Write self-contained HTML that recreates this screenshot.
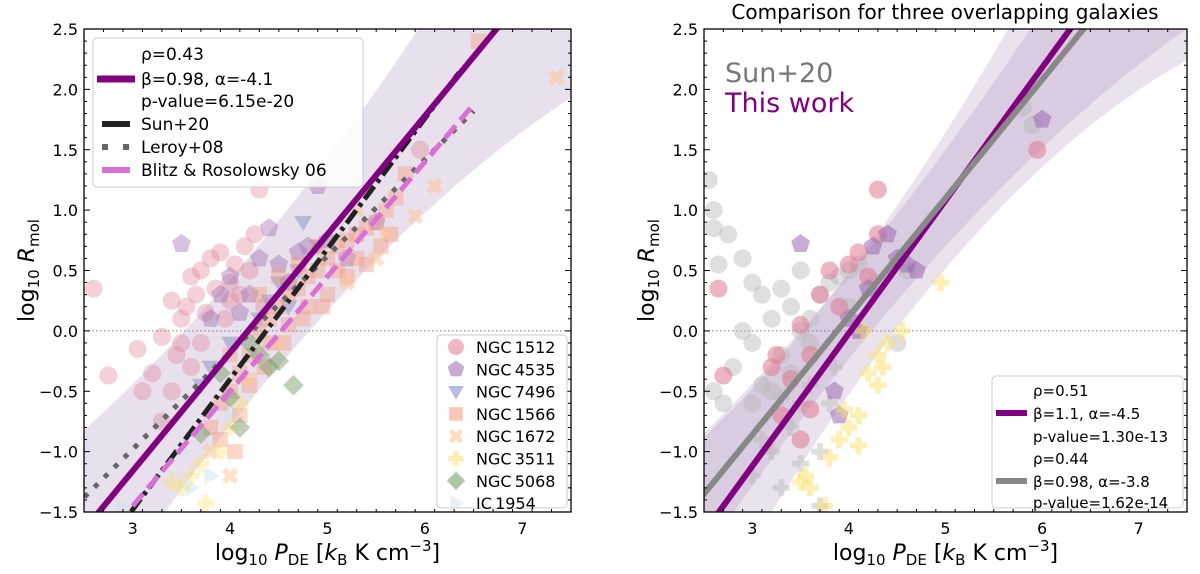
<!DOCTYPE html>
<html><head><meta charset="utf-8">
<style>
html,body{margin:0;padding:0;background:#fff;width:1200px;height:574px;overflow:hidden;}
svg{display:block;font-family:"DejaVu Sans","Liberation Sans",sans-serif;}
</style></head>
<body>
<svg id="fig" width="1200" height="574" viewBox="0 0 1200 574"></svg>
<script>
// ---------- data ----------
const xTicks=[3,4,5,6,7];
const yTicks=[-1.5,-1.0,-0.5,0.0,0.5,1.0,1.5,2.0,2.5];
const fitLeft=[0.98,-4.1];
const sunLine=[1.08,-4.72];
const leroyLine=[0.8,-3.38];
const blitzLine=[0.95,-4.3];
const fitRightWork=[1.1,-4.42];
const fitRightSun=[0.98,-3.8];
const n1512=[[2.6,0.35],[2.75,-0.37],[3.05,-0.15],[3.1,-0.5],[3.2,-0.35],[3.3,-0.75],[3.4,0.25],[3.5,0.1],[3.55,0.2],[3.6,0.45],[3.65,0.3],[3.7,0.5],[3.75,0.15],[3.8,0.6],[3.85,0.35],[3.9,0.65],[3.95,0.1],[4.0,0.4],[4.05,0.55],[4.1,0.3],[4.15,0.7],[4.2,0.5],[4.25,0.8],[4.3,1.17],[4.35,0.2],[3.3,-0.05],[3.45,-0.2],[3.6,-0.3],[3.5,-0.1],[4.0,0.25],[5.95,1.5],[3.4,-0.5],[3.7,-0.1]];
const n4535=[[3.5,0.72],[4.9,1.2],[4.3,0.6],[4.5,0.55],[4.6,0.4],[4.7,0.65],[4.8,0.7],[4.0,0.45],[4.2,0.3],[5.0,0.75],[5.2,0.6],[4.4,0.85],[3.9,0.3],[4.1,0.15],[5.5,0.9],[3.8,0.1]];
const n7496=[[4.5,0.4],[4.7,0.5],[4.6,0.2],[4.3,0.1],[4.0,-0.1],[3.8,-0.3],[3.7,-0.45],[4.9,0.7],[4.4,0.25],[4.75,0.9]];
const n1566=[[3.8,-0.8],[3.9,-0.6],[4.0,-0.5],[4.1,-0.35],[4.2,-0.2],[4.3,0],[4.4,0.1],[4.5,0.2],[4.6,0.3],[4.7,0.35],[4.8,0.45],[4.9,0.5],[5.0,0.6],[5.1,0.7],[5.2,0.75],[5.3,0.8],[5.4,0.85],[5.5,0.9],[5.6,1.0],[5.7,1.1],[5.8,1.3],[4.0,-0.2],[4.2,-0.45],[4.4,-0.1],[4.6,0.05],[4.8,0.2],[5.0,0.3],[5.2,0.45],[5.4,0.55],[4.3,0.3],[4.5,0.45],[4.7,0.55],[4.9,0.7],[5.1,0.5],[5.3,0.6],[3.9,-0.9],[4.1,-0.7],[4.05,-1.0],[6.55,2.4],[4.35,-0.3],[4.55,-0.1],[4.75,0.1],[4.95,0.2],[5.55,0.7],[5.65,0.8]];
const n1672=[[5.5,0.6],[5.9,0.95],[7.35,2.1],[4.2,-0.4],[4.5,-0.1],[5.2,0.4],[5.6,0.8],[3.8,-1.0],[4.0,-1.2],[5.3,1.0],[6.1,1.2]];
const n3511=[[3.5,-1.3],[3.6,-1.2],[3.7,-1.1],[3.75,-1.43],[3.9,-1.0],[4.0,-0.8],[3.4,-1.25],[4.1,-0.6]];
const n5068=[[4.5,-0.25],[4.65,-0.45],[4.4,-0.3],[4.2,-0.1],[4.0,-0.55],[3.7,-0.85],[4.1,-0.8],[4.3,-0.2],[3.9,-0.35]];
const ic1954=[[3.6,-1.3],[3.3,-0.75],[3.5,-1.0],[3.8,-1.2],[2.9,-1.45],[4.0,-0.7]];
const rSunCirc=[[2.55,1.25],[2.6,1.0],[2.6,0.85],[2.75,0.8],[2.9,0.6],[3.0,0.4],[3.1,0.3],[3.2,0.1],[3.3,0.35],[3.4,0.2],[3.5,0.0],[3.6,0.1],[3.7,0.3],[3.8,0.4],[3.9,0.45],[4.0,0.5],[4.1,0.55],[3.3,-0.2],[3.2,-0.5],[3.1,-0.45],[3.0,-0.1],[2.8,-0.3],[2.7,-0.6],[2.6,-0.5],[2.9,0.0],[3.4,-0.35],[3.6,-0.1],[3.5,0.5],[2.65,0.55],[3.0,-0.6],[5.8,1.85],[5.9,1.7],[4.0,0.2],[4.3,0.4],[4.6,0.5],[4.5,-0.1]];
const r1512=[[2.65,0.35],[2.7,-0.37],[3.25,-0.2],[3.3,-0.7],[3.5,-0.9],[3.6,-0.65],[3.4,-0.4],[3.5,0.05],[3.7,0.3],[3.8,0.5],[4.0,0.55],[4.1,0.65],[4.2,0.45],[4.3,1.17],[4.3,0.8],[3.9,0.2],[3.2,-0.3],[3.6,-0.2],[5.95,1.5]];
const r4535=[[3.5,0.72],[3.85,-0.5],[3.9,-0.7],[4.0,0.1],[4.2,0.35],[4.5,0.6],[4.6,0.55],[4.7,0.5],[4.4,0.8],[4.25,0.7],[6.0,1.75],[4.1,0.0]];
const r3511=[[3.5,-1.25],[3.6,-1.3],[3.55,-1.2],[3.8,-1.05],[3.9,-0.9],[4.0,-0.8],[4.1,-0.7],[4.2,-0.35],[4.3,-0.2],[4.4,-0.1],[4.3,-0.45],[4.1,-0.95],[3.75,-1.45],[4.15,0.0],[4.55,0.0],[4.95,0.4],[3.95,-0.65],[4.35,-0.3]];
const rSunPlus=[[3.0,-1.2],[3.1,-0.9],[3.2,-1.0],[3.3,-1.3],[3.4,-0.8],[3.5,-0.6],[3.6,-0.45],[3.7,-1.0],[3.8,-0.6],[3.3,-0.55],[3.5,-1.1],[3.85,-0.3],[3.7,-1.45]];

const NS='http://www.w3.org/2000/svg';
const svg=document.getElementById('fig');
function el(tag,attrs,parent){const e=document.createElementNS(NS,tag);for(const k in attrs)e.setAttribute(k,attrs[k]);(parent||svg).appendChild(e);return e;}

function makeAxes(x0,x1,y0,y1,id){
  const sx=v=>x0+(v-2.5)/5*(x1-x0);
  const sy=v=>y1-(v+1.5)/4*(y1-y0);
  const defs=el('defs',{});
  const cp=el('clipPath',{id:id},defs);
  el('rect',{x:x0,y:y0,width:x1-x0,height:y1-y0},cp);
  const g=el('g',{'clip-path':'url(#'+id+')'});
  
  
  return {sx,sy,g,x0,x1,y0,y1};
}
function drawFrame(ax,name){
  const {sx,sy,x0,x1,y0,y1}=ax;
  const f=el('g',{});
  
  
  el('rect',{x:x0,y:y0,width:x1-x0,height:y1-y0,fill:'none',stroke:'#000','stroke-width':1.3},f);
  for(let i=0;i<=25;i++){const v=2.5+i*0.2;const X=sx(v);const major=Math.abs(v-Math.round(v))<1e-6;const L=major?6:3;
    el('line',{x1:X,x2:X,y1:y1,y2:y1-L,stroke:'#000','stroke-width':1},f);
    el('line',{x1:X,x2:X,y1:y0,y2:y0+L,stroke:'#000','stroke-width':1},f);}
  for(let i=0;i<=40;i++){const v=-1.5+i*0.1;const Y=sy(v);const major=(i%5===0);const L=major?6:3;
    el('line',{x1:x0,x2:x0+L,y1:Y,y2:Y,stroke:'#000','stroke-width':1},f);
    el('line',{x1:x1,x2:x1-L,y1:Y,y2:Y,stroke:'#000','stroke-width':1},f);}
  xTicks.forEach(v=>{const t=el('text',{x:sx(v),y:y1+22,'text-anchor':'middle','font-size':16},f);t.textContent=v;
    });
  yTicks.forEach(v=>{const t=el('text',{x:x0-6,y:sy(v)+6,'text-anchor':'end','font-size':16},f);t.textContent=v.toFixed(1).replace('-','\u2212');
    });
  const xl=el('text',{x:(x0+x1)/2,y:y1+48,'text-anchor':'middle','font-size':22},f);
  
  xl.innerHTML='log<tspan font-size="15" dy="5">10</tspan><tspan dy="-5"> </tspan><tspan font-style="italic">P</tspan><tspan font-size="15" dy="5">DE</tspan><tspan dy="-5"> [</tspan><tspan font-style="italic">k</tspan><tspan font-size="15" dy="5">B</tspan><tspan dy="-5"> K cm</tspan><tspan font-size="15" dy="-9">\u22123</tspan><tspan dy="9">]</tspan>';
  const yl=el('text',{x:0,y:0,'text-anchor':'middle','font-size':22,transform:'translate('+(x0-50)+','+((y0+y1)/2)+') rotate(-90)'},f);
  
  yl.innerHTML='log<tspan font-size="15" dy="5">10</tspan><tspan dy="-5"> </tspan><tspan font-style="italic">R</tspan><tspan font-size="15" dy="5">mol</tspan>';
}
function line(ax,p,style,name){
  const a=-1,b=8;
  const l=el('line',Object.assign({x1:ax.sx(a),y1:ax.sy(p[0]*a+p[1]),x2:ax.sx(b),y2:ax.sy(p[0]*b+p[1]),fill:'none'},style),ax.g);
  
}
function segLine(ax,p,xa,xb,style,name){
  const l=el('line',Object.assign({x1:ax.sx(xa),y1:ax.sy(p[0]*xa+p[1]),x2:ax.sx(xb),y2:ax.sy(p[0]*xb+p[1])},style),ax.g);
  
}
function band(ax,p,cx,w0,k,fill,name){
  let up=[],lo=[];
  for(let i=0;i<=60;i++){const x=2.0+i*0.1;const h=w0+k*(x-cx)*(x-cx);const yc=p[0]*x+p[1];
    up.push(ax.sx(x)+','+ax.sy(yc+h));lo.unshift(ax.sx(x)+','+ax.sy(yc-h));}
  const pg=el('polygon',{points:up.concat(lo).join(' '),fill:fill},ax.g);
  
}
function marker(parent,shape,X,Y,color,op,s){
  s=s||9;let e;
  if(shape==='circle')e=el('circle',{cx:X,cy:Y,r:s},parent);
  else{
    let pts;
    if(shape==='pent'){pts=[];for(let i=0;i<5;i++){const a=-Math.PI/2+i*2*Math.PI/5;pts.push([Math.cos(a)*s*1.1,Math.sin(a)*s*1.1]);}}
    else if(shape==='tdown')pts=[[-s,-s*0.7],[s,-s*0.7],[0,s*1.0]];
    else if(shape==='tright')pts=[[-s*0.7,-s],[-s*0.7,s],[s,0]];
    else if(shape==='square')pts=[[-s*0.85,-s*0.85],[s*0.85,-s*0.85],[s*0.85,s*0.85],[-s*0.85,s*0.85]];
    else if(shape==='diamond')pts=[[0,-s*1.15],[s*1.15,0],[0,s*1.15],[-s*1.15,0]];
    else if(shape==='plus'){const a=s*0.33,b=s*0.95;pts=[[-a,-b],[a,-b],[a,-a],[b,-a],[b,a],[a,a],[a,b],[-a,b],[-a,a],[-b,a],[-b,-a],[-a,-a]];}
    else if(shape==='x'){const a=s*0.33,b=s*0.95;const q=[[-a,-b],[a,-b],[a,-a],[b,-a],[b,a],[a,a],[a,b],[-a,b],[-a,a],[-b,a],[-b,-a],[-a,-a]];const c=Math.SQRT1_2;pts=q.map(p=>[(p[0]-p[1])*c,(p[0]+p[1])*c]);}
    e=el('polygon',{points:pts.map(p=>(X+p[0])+','+(Y+p[1])).join(' ')},parent);
  }
  e.setAttribute('fill',color);e.setAttribute('fill-opacity',op);
  return e;
}
function scatter(ax,data,shape,color,op,name){
  const g=el('g',{},ax.g);
  
  data.forEach(d=>{const m=marker(g,shape,ax.sx(d[0]),ax.sy(d[1]),color,op);
    
    });
}

// ---------- colours ----------
const C={pink:'#e07a93',purp:'#9a6aae',blue:'#7d85c2',salmon:'#f59a7e',peach:'#ffc391',yellow:'#fbe26a',green:'#6e9960',lblue:'#cde6ee',grey:'#b8b8b8'};

// ---------- left panel ----------
const L=makeAxes(84,571,29,512,'clipL');
band(L,fitLeft,4.3,0.6,0.07,'rgba(150,115,170,0.22)','confidence-band-left');
el('line',{x1:84,x2:571,y1:L.sy(0),y2:L.sy(0),stroke:'#777','stroke-width':1,'stroke-dasharray':'1.5 2.5'},L.g);
scatter(L,ic1954,'tright',C.lblue,0.55,'ic1954-points');
scatter(L,n1512,'circle',C.pink,0.35,'ngc1512-points');
scatter(L,n4535,'pent',C.purp,0.4,'ngc4535-points');
scatter(L,n7496,'tdown',C.blue,0.45,'ngc7496-points');
scatter(L,n1566,'square',C.salmon,0.4,'ngc1566-points');
scatter(L,n1672,'x',C.peach,0.5,'ngc1672-points');
scatter(L,n3511,'plus',C.yellow,0.4,'ngc3511-points');
scatter(L,n5068,'diamond',C.green,0.45,'ngc5068-points');
segLine(L,leroyLine,2.3,6.5,{stroke:'#666','stroke-width':5,'stroke-dasharray':'5 9'},'leroy08-line');
segLine(L,sunLine,2.8,6.35,{stroke:'#222','stroke-width':5,'stroke-dasharray':'16 5 4 5'},'sun20-line');
segLine(L,blitzLine,3.0,6.5,{stroke:'#da70d6','stroke-width':5,'stroke-dasharray':'16 7'},'blitz-rosolowsky-line');
line(L,fitLeft,{stroke:'#800080','stroke-width':6},'fit-line-left');
drawFrame(L,'left');

// left legend (top)
(function(){
  const g=el('g',{});
  el('rect',{x:93,y:38,width:270,height:149,rx:4,fill:'#fff','fill-opacity':0.85,stroke:'#ccc'},g);
  const rows=[['\u03c1=0.43',54,null],['\u03b2=0.98, \u03b1=-4.1',79,'fit'],['p-value=6.15e-20',101,null],['Sun+20',124,'sun'],['Leroy+08',147,'leroy'],['Blitz & Rosolowsky 06',170,'blitz']];
  rows.forEach(r=>{const t=el('text',{x:141,y:r[1]+6,'font-size':17},g);t.textContent=r[0];
    
    if(r[2]==='fit')el('line',{x1:97,x2:135,y1:r[1],y2:r[1],stroke:'#800080','stroke-width':7},g);
    if(r[2]==='sun')el('line',{x1:102,x2:130,y1:r[1],y2:r[1],stroke:'#222','stroke-width':6},g);
    if(r[2]==='leroy')el('line',{x1:102,x2:130,y1:r[1],y2:r[1],stroke:'#666','stroke-width':6,'stroke-dasharray':'6 15'},g);
    if(r[2]==='blitz')el('line',{x1:102,x2:130,y1:r[1],y2:r[1],stroke:'#da70d6','stroke-width':6},g);
  });
})();
// left legend (galaxies)
(function(){
  const g=el('g',{});
  el('rect',{x:437,y:335,width:130,height:173,rx:4,fill:'#fff','fill-opacity':0.85,stroke:'#ccc'},g);
  const names=['NGC\u20091512','NGC\u20094535','NGC\u20097496','NGC\u20091566','NGC\u20091672','NGC\u20093511','NGC\u20095068','IC\u20091954'];
  const shapes=['circle','pent','tdown','square','x','plus','diamond','tright'];
  const cols=[C.pink,C.purp,C.blue,C.salmon,C.peach,C.yellow,C.green,C.lblue];
  names.forEach((n,i)=>{const Y=347+i*22.3;marker(g,shapes[i],456,Y,cols[i],0.55,8);
    const t=el('text',{x:476,y:Y+6,'font-size':16},g);t.textContent=n;
    });
})();

// ---------- right panel ----------
const R=makeAxes(704,1187,29,512,'clipR');
band(R,fitRightWork,4.2,0.5,0.1,'rgba(150,115,170,0.2)','confidence-band-this-work');
band(R,fitRightSun,4.1,0.35,0.06,'rgba(150,115,170,0.2)','confidence-band-sun20');
el('line',{x1:704,x2:1187,y1:R.sy(0),y2:R.sy(0),stroke:'#777','stroke-width':1,'stroke-dasharray':'1.5 2.5'},R.g);
scatter(R,rSunCirc,'circle',C.grey,0.45,'sun20-ngc1512-points');
scatter(R,rSunPlus,'plus',C.grey,0.45,'sun20-ngc3511-points');
scatter(R,r1512,'circle',C.pink,0.55,'ngc1512-points-right');
scatter(R,r4535,'pent',C.purp,0.55,'ngc4535-points-right');
scatter(R,r3511,'plus',C.yellow,0.5,'ngc3511-points-right');
line(R,fitRightWork,{stroke:'#800080','stroke-width':6},'fit-line-this-work');
line(R,fitRightSun,{stroke:'#888','stroke-width':6},'fit-line-sun20');
drawFrame(R,'right');
(function(){
  const t=el('text',{x:945,y:19,'text-anchor':'middle','font-size':20});t.textContent='Comparison for three overlapping galaxies';
  
  const a=el('text',{x:725,y:82,'font-size':27,fill:'#777'});a.textContent='Sun+20';
  
  const b=el('text',{x:725,y:112,'font-size':27,fill:'#800080'});b.textContent='This work';
  
  const g=el('g',{});
  el('rect',{x:992,y:376,width:191,height:132,rx:4,fill:'#fff','fill-opacity':0.85,stroke:'#ccc'},g);
  const rows=[['\u03c1=0.51',390,null],['\u03b2=1.1, \u03b1=-4.5',413,'w'],['p-value=1.30e-13',436,null],['\u03c1=0.44',458,null],['\u03b2=0.98, \u03b1=-3.8',481,'s'],['p-value=1.62e-14',502,null]];
  rows.forEach(r=>{const t=el('text',{x:1033,y:r[1]+6,'font-size':15},g);t.textContent=r[0];
    
    if(r[2]==='w')el('line',{x1:996,x2:1027,y1:r[1],y2:r[1],stroke:'#800080','stroke-width':6},g);
    if(r[2]==='s')el('line',{x1:996,x2:1027,y1:r[1],y2:r[1],stroke:'#888','stroke-width':6},g);
  });
})();
</script>
</body></html>
